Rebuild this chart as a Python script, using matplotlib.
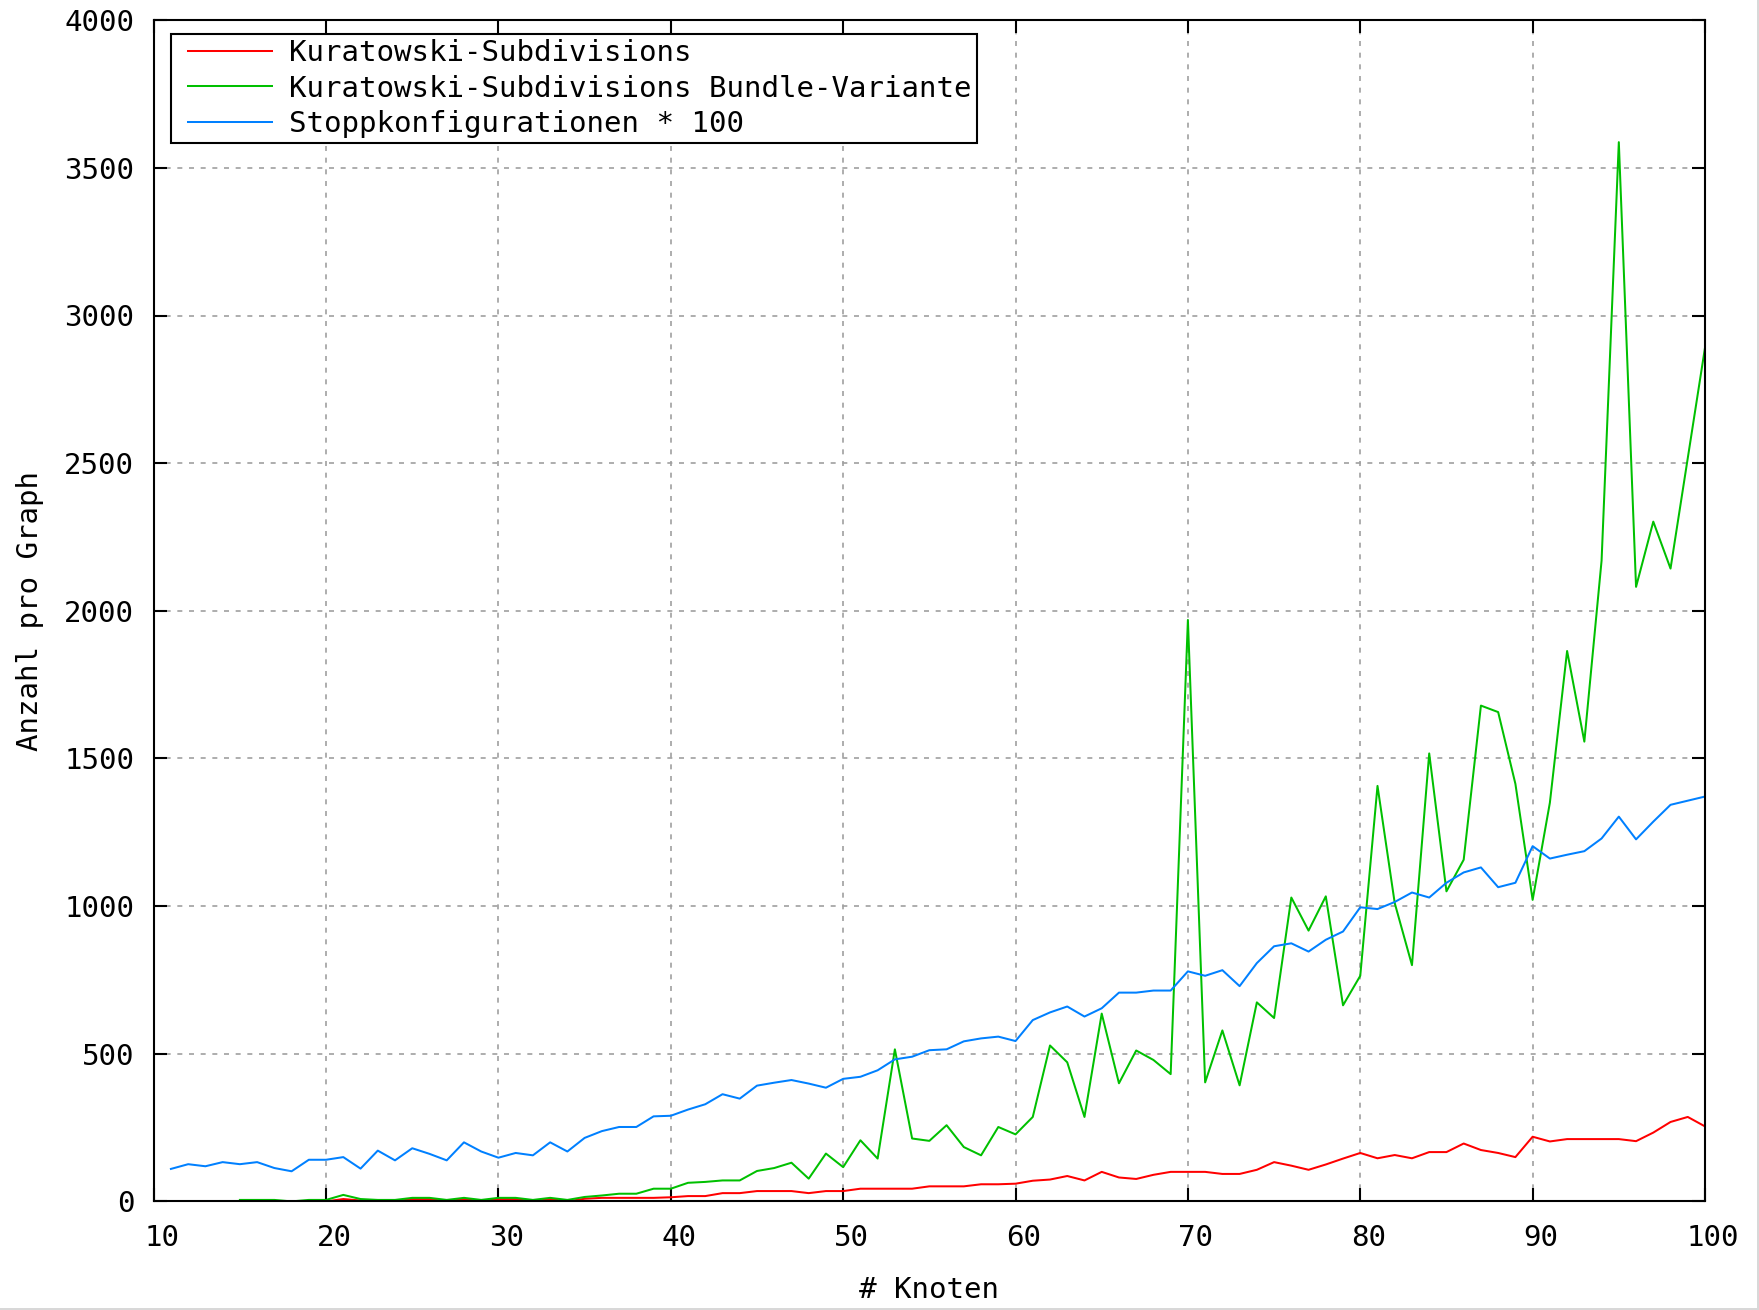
import matplotlib
matplotlib.use("Agg")
import matplotlib.pyplot as plt
from matplotlib.transforms import ScaledTranslation
from matplotlib.patches import Rectangle
from matplotlib.lines import Line2D
from matplotlib.legend_handler import HandlerLine2D

# ---------------- data ----------------
x_stopp = list(range(11, 101))
stopp_x100 = [110, 126, 119, 133, 126, 133, 113, 102, 141, 141,
              150, 111, 172, 139, 180, 161, 139, 200, 169, 148,
              164, 156, 200, 169, 215, 238, 252, 252, 288, 290,
              311, 329, 363, 348, 392, 402, 411, 399, 385, 415,
              422, 444, 481, 490, 512, 515, 542, 552, 558, 543,
              614, 640, 660, 626, 654, 707, 707, 714, 714, 779,
              764, 783, 729, 807, 864, 874, 846, 886, 914, 996,
              990, 1014, 1046, 1029, 1079, 1114, 1131, 1064, 1079, 1203,
              1161, 1174, 1186, 1229, 1303, 1226, 1286, 1343, 1357, 1371]

x_kura = list(range(15, 101))
kura_bundle = [5, 5, 5, 0, 5, 5, 22, 8, 5, 5,
               12, 12, 5, 12, 5, 12, 12, 5, 12, 5,
               15, 20, 26, 26, 43, 43, 63, 66, 71, 71,
               103, 113, 131, 77, 162, 116, 207, 145, 515, 213,
               205, 258, 184, 156, 252, 227, 286, 528, 471, 286,
               636, 400, 511, 479, 431, 1969, 403, 579, 393, 674,
               621, 1029, 917, 1033, 664, 764, 1407, 1010, 800, 1517,
               1050, 1157, 1679, 1657, 1414, 1021, 1350, 1864, 1557, 2170,
               3587, 2081, 2302, 2143, 2517, 2891]
kura_subdiv = [0, 0, 0, 0, 0, 0, 8, 3, 0, 0,
               8, 8, 0, 8, 0, 8, 8, 0, 8, 0,
               9, 12, 12, 12, 12, 14, 18, 18, 28, 28,
               35, 35, 35, 28, 35, 35, 43, 43, 43, 43,
               51, 51, 51, 58, 58, 60, 70, 74, 86, 71,
               100, 81, 76, 90, 100, 100, 100, 93, 93, 107,
               133, 121, 107, 125, 145, 164, 146, 157, 146, 167,
               167, 196, 174, 164, 150, 219, 203, 211, 211, 211,
               211, 204, 233, 269, 286, 254]

labels = ["Kuratowski-Subdivisions",
          "Kuratowski-Subdivisions Bundle-Variante",
          "Stoppkonfigurationen * 100"]
x_ticks = list(range(10, 101, 10))
y_ticks = list(range(0, 4001, 500))

# ---------------- style ----------------
FONT = "DejaVu Sans Mono"
FS = 21
plt.rcParams["font.family"] = [FONT, "DejaVu Sans"]

W, H, DPI = 1759, 1310, 100
fig = plt.figure(figsize=(W / DPI, H / DPI), dpi=DPI)
L, R, T, B = 153.7, 1705.0, 20.2, 1201.4
ax = fig.add_axes([L / W, 1 - B / H, (R - L) / W, (B - T) / H])

lw = 1.45
ax.plot(x_kura, kura_subdiv, color="#ff0000", lw=lw, label=labels[0])
ax.plot(x_kura, kura_bundle, color="#00c000", lw=lw, label=labels[1])
ax.plot(x_stopp, stopp_x100, color="#0080ff", lw=lw, label=labels[2])

ax.set_xlim(10, 100)
ax.set_ylim(0, 4000)
ax.set_xticks(x_ticks)
ax.set_yticks(y_ticks)
ax.grid(True, color="#a0a0a0", lw=1.2, linestyle=(0, (3, 4)))
ax.set_axisbelow(True)

for s in ax.spines.values():
    s.set_linewidth(1.5)
    s.set_color("black")
    s.set_zorder(5)

ax.tick_params(axis="both", which="major", direction="in", length=9.5,
               width=1.5, labelsize=FS, top=True, right=True, color="black")
ax.tick_params(axis="x", pad=16)
ax.tick_params(axis="y", pad=14)

off = ScaledTranslation(8 / DPI, 0, fig.dpi_scale_trans)
for lab in ax.get_xticklabels():
    lab.set_transform(lab.get_transform() + off)

ax.set_xlabel("# Knoten", fontsize=FS)
ax.xaxis.set_label_coords(0.5, (B - 1290) / (B - T))
ax.xaxis.label.set_va("center")
ax.set_ylabel("Anzahl pro Graph", fontsize=FS)
ax.yaxis.set_label_coords((30 - L) / (R - L), 0.5)
ax.yaxis.label.set_va("center")

leg = ax.legend(loc="upper left",
                bbox_to_anchor=((170.5 - L) / (R - L), 1 - (33.7 - T) / (B - T)),
                borderaxespad=0, fontsize=FS, frameon=True, fancybox=False,
                framealpha=1, edgecolor="black", handlelength=3.71,
                handletextpad=0.17, labelspacing=0.26, borderpad=0.18,
                numpoints=2,
                handler_map={Line2D: HandlerLine2D(marker_pad=0.42, numpoints=2)})
leg.get_frame().set_linewidth(1.5)
for h in leg.get_lines():
    h.set_linewidth(1.45)
leg.set_zorder(10)

# light border at image right/bottom edge
fig.patches.append(Rectangle((0, 0), 1, 2.0 / H, transform=fig.transFigure,
                             facecolor="#d8d8d8", edgecolor="none"))
fig.patches.append(Rectangle((1 - 2.0 / W, 0), 2.0 / W, 1, transform=fig.transFigure,
                             facecolor="#d8d8d8", edgecolor="none"))

fig.savefig("out.png", dpi=DPI)
